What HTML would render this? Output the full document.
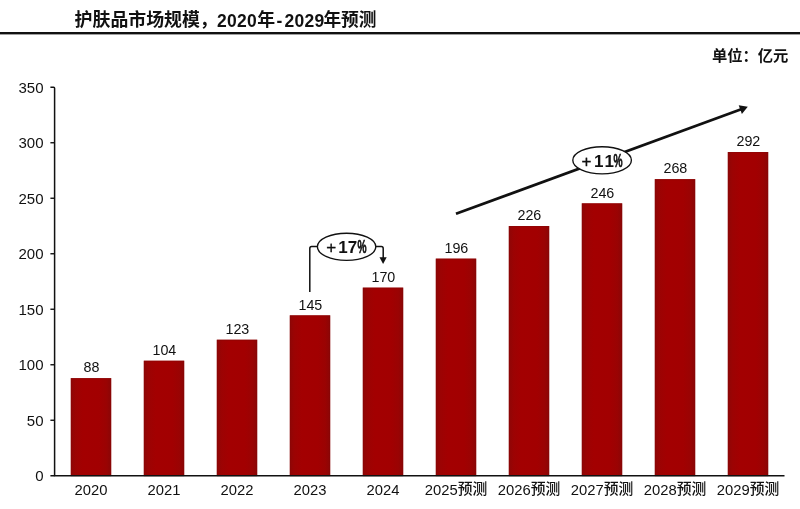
<!DOCTYPE html>
<html lang="zh-CN">
<head>
<meta charset="utf-8">
<title>护肤品市场规模，2020年-2029年预测</title>
<style>
html,body{margin:0;padding:0;background:#fff;}
body{width:800px;height:509px;overflow:hidden;font-family:"Liberation Sans", "Noto Sans CJK SC", sans-serif;}
svg{display:block;}
text{font-family:"Liberation Sans", "Noto Sans CJK SC", sans-serif;fill:#111;}
.t{font-size:17.9px;font-weight:700;}
.d{font-size:17.5px;}
.u{font-size:15.3px;font-weight:700;}
.a{font-size:15px;}
.v{font-size:14.3px;}
.x{font-size:14.8px;}
.p{font-size:17px;font-weight:700;}
</style>
</head>
<body>
<svg width="800" height="509" viewBox="0 0 800 509">
<defs>
<linearGradient id="g" x1="0" y1="0" x2="1" y2="0">
<stop offset="0" stop-color="#8e0606"/>
<stop offset="0.12" stop-color="#9c0303"/>
<stop offset="0.3" stop-color="#a30001"/>
<stop offset="0.7" stop-color="#a20001"/>
<stop offset="0.88" stop-color="#9a0303"/>
<stop offset="1" stop-color="#8a0606"/>
</linearGradient>
</defs>
<rect width="800" height="509" fill="#fff"/>

<g>
<text class="t" x="74.6" y="26.1">护肤品市场规模，</text>
<text class="t d" transform="translate(216.9 27) scale(1 1.09)" style="letter-spacing:0.3px">2020</text>
<text class="t" x="257.2" y="26.1">年</text>
<text class="t d" transform="translate(276.6 27) scale(1 1.09)">-</text>
<text class="t d" transform="translate(284.4 27) scale(1 1.09)" style="letter-spacing:0.3px">2029</text>
<text class="t" x="323.4" y="26.1" style="font-size:17.7px">年预测</text>
</g>
<rect x="0" y="32.0" width="800" height="2.4" fill="#111"/>
<text class="u" x="788.4" y="60.6" text-anchor="end">单位：亿元</text>
<rect x="70.80" y="378.10" width="40.40" height="97.65" fill="url(#g)"/>
<rect x="71.30" y="378.60" width="39.40" height="97.15" fill="none" stroke="#860808" stroke-opacity="0.55" stroke-width="1"/>
<text class="v" x="91.40" y="372.30" text-anchor="middle">88</text>
<text class="x" x="91.00" y="494.60" text-anchor="middle">2020</text>
<rect x="143.80" y="360.70" width="40.40" height="115.05" fill="url(#g)"/>
<rect x="144.30" y="361.20" width="39.40" height="114.55" fill="none" stroke="#860808" stroke-opacity="0.55" stroke-width="1"/>
<text class="v" x="164.40" y="354.90" text-anchor="middle">104</text>
<text class="x" x="164.00" y="494.60" text-anchor="middle">2021</text>
<rect x="216.80" y="339.70" width="40.40" height="136.05" fill="url(#g)"/>
<rect x="217.30" y="340.20" width="39.40" height="135.55" fill="none" stroke="#860808" stroke-opacity="0.55" stroke-width="1"/>
<text class="v" x="237.40" y="333.90" text-anchor="middle">123</text>
<text class="x" x="237.00" y="494.60" text-anchor="middle">2022</text>
<rect x="289.80" y="315.30" width="40.40" height="160.45" fill="url(#g)"/>
<rect x="290.30" y="315.80" width="39.40" height="159.95" fill="none" stroke="#860808" stroke-opacity="0.55" stroke-width="1"/>
<text class="v" x="310.40" y="309.50" text-anchor="middle">145</text>
<text class="x" x="310.00" y="494.60" text-anchor="middle">2023</text>
<rect x="362.80" y="287.60" width="40.40" height="188.15" fill="url(#g)"/>
<rect x="363.30" y="288.10" width="39.40" height="187.65" fill="none" stroke="#860808" stroke-opacity="0.55" stroke-width="1"/>
<text class="v" x="383.40" y="281.80" text-anchor="middle">170</text>
<text class="x" x="383.00" y="494.60" text-anchor="middle">2024</text>
<rect x="435.80" y="258.60" width="40.40" height="217.15" fill="url(#g)"/>
<rect x="436.30" y="259.10" width="39.40" height="216.65" fill="none" stroke="#860808" stroke-opacity="0.55" stroke-width="1"/>
<text class="v" x="456.40" y="252.80" text-anchor="middle">196</text>
<text class="x" x="456.00" y="494.60" text-anchor="middle">2025<tspan dy="-0.7" style="font-weight:500">预测</tspan></text>
<rect x="508.80" y="226.00" width="40.40" height="249.75" fill="url(#g)"/>
<rect x="509.30" y="226.50" width="39.40" height="249.25" fill="none" stroke="#860808" stroke-opacity="0.55" stroke-width="1"/>
<text class="v" x="529.40" y="220.20" text-anchor="middle">226</text>
<text class="x" x="529.00" y="494.60" text-anchor="middle">2026<tspan dy="-0.7" style="font-weight:500">预测</tspan></text>
<rect x="581.80" y="203.30" width="40.40" height="272.45" fill="url(#g)"/>
<rect x="582.30" y="203.80" width="39.40" height="271.95" fill="none" stroke="#860808" stroke-opacity="0.55" stroke-width="1"/>
<text class="v" x="602.40" y="197.50" text-anchor="middle">246</text>
<text class="x" x="602.00" y="494.60" text-anchor="middle">2027<tspan dy="-0.7" style="font-weight:500">预测</tspan></text>
<rect x="654.80" y="179.10" width="40.40" height="296.65" fill="url(#g)"/>
<rect x="655.30" y="179.60" width="39.40" height="296.15" fill="none" stroke="#860808" stroke-opacity="0.55" stroke-width="1"/>
<text class="v" x="675.40" y="173.30" text-anchor="middle">268</text>
<text class="x" x="675.00" y="494.60" text-anchor="middle">2028<tspan dy="-0.7" style="font-weight:500">预测</tspan></text>
<rect x="727.80" y="152.00" width="40.40" height="323.75" fill="url(#g)"/>
<rect x="728.30" y="152.50" width="39.40" height="323.25" fill="none" stroke="#860808" stroke-opacity="0.55" stroke-width="1"/>
<text class="v" x="748.40" y="146.20" text-anchor="middle">292</text>
<text class="x" x="748.00" y="494.60" text-anchor="middle">2029<tspan dy="-0.7" style="font-weight:500">预测</tspan></text>
<path d="M50.4 87.3H53.6Q54.6 87.3 54.6 88.3V475.75H784.5" fill="none" stroke="#111" stroke-width="1.5"/>
<path d="M50.4 475.75H54.5" stroke="#111" stroke-width="1.5"/>
<text class="a" x="43.5" y="481.15" text-anchor="end">0</text>
<path d="M50.4 420.25H54.5" stroke="#111" stroke-width="1.4"/>
<text class="a" x="43.5" y="425.65" text-anchor="end">50</text>
<path d="M50.4 364.75H54.5" stroke="#111" stroke-width="1.4"/>
<text class="a" x="43.5" y="370.15" text-anchor="end">100</text>
<path d="M50.4 309.25H54.5" stroke="#111" stroke-width="1.4"/>
<text class="a" x="43.5" y="314.65" text-anchor="end">150</text>
<path d="M50.4 253.75H54.5" stroke="#111" stroke-width="1.4"/>
<text class="a" x="43.5" y="259.15" text-anchor="end">200</text>
<path d="M50.4 198.25H54.5" stroke="#111" stroke-width="1.4"/>
<text class="a" x="43.5" y="203.65" text-anchor="end">250</text>
<path d="M50.4 142.75H54.5" stroke="#111" stroke-width="1.4"/>
<text class="a" x="43.5" y="148.15" text-anchor="end">300</text>
<text class="a" x="43.5" y="92.65" text-anchor="end">350</text>
<path d="M309.8 292V248.4Q309.8 246.5 311.7 246.5H318" fill="none" stroke="#111" stroke-width="1.5"/>
<path d="M375 246.5H381.3Q383.2 246.5 383.2 248.4V258" fill="none" stroke="#111" stroke-width="1.5"/>
<path d="M379.5 257.2H386.7L383.1 264.1Z" fill="#111"/>
<ellipse cx="346.6" cy="246.8" rx="29.2" ry="13.6" fill="#fff" stroke="#111" stroke-width="1.35"/>
<text class="p" y="252.60"><tspan x="326.20" style="font-weight:400" stroke="#111" stroke-width="0.35">+</tspan><tspan x="338.20" style="letter-spacing:0.0px">17</tspan></text>
<text class="p" transform="translate(357.60 252.60) scale(0.6 1.03)" stroke="#111" stroke-width="0.55">%</text>
<path d="M456 213.8L741.2 109.25" stroke="#111" stroke-width="2.8" fill="none"/>
<path d="M747.8 106.8L738.7 105.2L741.9 114.1Z" fill="#111"/>
<ellipse cx="602.1" cy="160.3" rx="29.3" ry="13.6" fill="#fff" stroke="#111" stroke-width="1.35"/>
<text class="p" y="166.60"><tspan x="581.40" style="font-weight:400" stroke="#111" stroke-width="0.35">+</tspan><tspan x="594.10" style="letter-spacing:1.9px">11</tspan></text>
<text class="p" transform="translate(613.60 166.60) scale(0.6 1.03)" stroke="#111" stroke-width="0.55">%</text>
</svg>
</body>
</html>
